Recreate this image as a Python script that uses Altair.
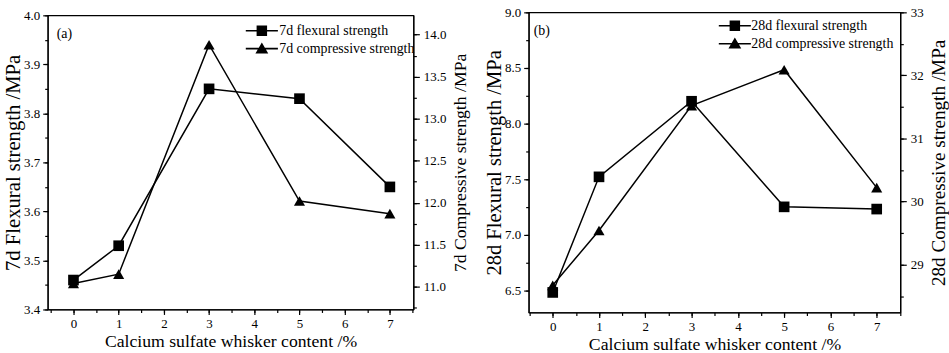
import altair as alt
import pandas as pd

# ---- data ----
content = [0, 1, 3, 5, 7]
flex_7d = [3.46, 3.53, 3.85, 3.83, 3.65]
comp_7d = [11.04, 11.15, 13.88, 12.02, 11.87]
flex_28d = [6.48, 7.52, 8.20, 7.25, 7.23]
comp_28d = [28.67, 29.54, 31.52, 32.09, 30.22]

x_ticks = [0, 1, 2, 3, 4, 5, 6, 7]
x_minor = [i * 0.5 for i in range(-1, 16)]
ticks_f7 = [3.4, 3.5, 3.6, 3.7, 3.8, 3.9, 4.0]
minor_f7 = [3.4 + i * 0.05 for i in range(13)]
ticks_c7 = [11.0, 11.5, 12.0, 12.5, 13.0, 13.5, 14.0]
minor_c7 = [10.75 + i * 0.25 for i in range(14)]
ticks_f28 = [6.5, 7.0, 7.5, 8.0, 8.5, 9.0]
minor_f28 = [6.5 + i * 0.25 for i in range(11)]
ticks_c28 = [29, 30, 31, 32, 33]
minor_c28 = [28.5 + i * 0.5 for i in range(10)]

FONT = "Liberation Serif"
# legend glyphs: a thin bar (the line) with the marker in its middle (unit = 8.5 px)
BAR = "M-1.9,-0.09H1.9V0.09H-1.9Z"
SQUARE = BAR + "M-0.62,-0.62H0.62V0.62H-0.62Z"
TRIANGLE = BAR + "M0,-0.72L0.76,0.58L-0.76,0.58Z"


def panel(tag, label, flex, comp, xdom, fdom, fticks, fminor, cdom, cticks,
          cminor, cfmt, w, h, legx, legy, legoff, tagx, tagy, ltitle, rtitle):
    names = [f"{tag} flexural strength", f"{tag} compressive strength"]
    df = pd.DataFrame({"x": content, "flex": flex, "comp": comp})
    xs = alt.Scale(domain=xdom, nice=False, zero=False)
    fs = alt.Scale(domain=fdom, nice=False, zero=False)
    cs = alt.Scale(domain=cdom, nice=False, zero=False)
    base = alt.Chart(df)

    flex_layer = base.mark_line(
        color="black", strokeWidth=1.5,
        point=alt.OverlayMarkDef(shape="square", size=115, filled=True,
                                 color="black", opacity=1),
    ).encode(
        x=alt.X("x:Q", scale=xs,
                axis=alt.Axis(orient="bottom", values=x_ticks, format="d",
                              labelFlush=False,
                              title="Calcium sulfate whisker content /%")),
        y=alt.Y("flex:Q", scale=fs,
                axis=alt.Axis(orient="left", values=fticks, format=".1f",
                              titleFontSize=ltitle, titlePadding=0,
                              title=f"{tag} Flexural strength /MPa")),
    )
    comp_layer = base.mark_line(
        color="black", strokeWidth=1.5,
        point=alt.OverlayMarkDef(shape="triangle-up", size=125, filled=True,
                                 color="black", opacity=1),
    ).encode(
        x=alt.X("x:Q", scale=xs, axis=None),
        y=alt.Y("comp:Q", scale=cs,
                axis=alt.Axis(orient="right", values=cticks, format=cfmt,
                              tickSize=6, labelPadding=4,
                              titleAngle=270, titleBaseline="top",
                              titleFontSize=rtitle, titlePadding=6,
                              title=f"{tag} Compressive strength /MPa")),
    )
    minor_left = base.mark_point(opacity=0).encode(
        x=alt.X("x:Q", scale=xs,
                axis=alt.Axis(orient="bottom", values=x_minor, labels=False,
                              domain=False, tickSize=3, title=None)),
        y=alt.Y("flex:Q", scale=fs,
                axis=alt.Axis(orient="left", values=fminor, labels=False,
                              domain=False, tickSize=3, title=None)),
    )
    minor_right = base.mark_point(opacity=0).encode(
        x=alt.X("x:Q", scale=xs, axis=None),
        y=alt.Y("comp:Q", scale=cs,
                axis=alt.Axis(orient="right", values=cminor, labels=False,
                              domain=False, tickSize=3, title=None)),
    )
    leg_df = pd.DataFrame({"series": names, "x": [0, 0], "y": [0, 0]})
    legend_layer = alt.Chart(leg_df).transform_filter("datum.x > 100").mark_point(
        filled=True, fill="black", stroke="black", strokeWidth=0, opacity=1
    ).encode(
        x=alt.X("x:Q", scale=xs, axis=None),
        y=alt.Y("y:Q", scale=fs, axis=None),
        shape=alt.Shape(
            "series:N",
            scale=alt.Scale(domain=names, range=[SQUARE, TRIANGLE]),
            legend=alt.Legend(
                title=None, orient="none", legendX=legx, legendY=legy,
                symbolSize=289, symbolStrokeWidth=0,
                symbolFillColor="black", symbolOpacity=1,
                labelFont=FONT, labelFontSize=14, labelColor="black",
                labelOffset=legoff, rowPadding=2, padding=0,
            ),
        ),
    )
    tag_layer = alt.Chart(pd.DataFrame({"t": [label]})).mark_text(
        font=FONT, fontSize=14, color="black", align="left", baseline="middle"
    ).encode(text="t:N", x=alt.value(tagx), y=alt.value(tagy))

    return alt.layer(
        flex_layer, comp_layer, minor_left, minor_right, legend_layer, tag_layer
    ).resolve_scale(x="independent", y="independent").properties(width=w, height=h)


left = panel("7d", "(a)", flex_7d, comp_7d, [-0.57, 7.52], [3.4, 4.0], ticks_f7,
             minor_f7, [10.73, 14.23], ticks_c7, minor_c7, ".1f", 368, 296,
             207, 7, 9, 9, 19, 20.8, 17.8)
right = panel("28d", "(b)", flex_28d, comp_28d, [-0.52, 7.51], [6.3, 9.0], ticks_f28,
              minor_f28, [28.24, 33.0], ticks_c28, minor_c28, "d", 374, 302,
              199, 5, 8, 5, 19, 20.7, 19.3)

chart = alt.hconcat(left, right, spacing=12, center=True).resolve_scale(
    shape="independent"
).properties(
    padding={"left": 2, "top": 4, "right": 0, "bottom": 0},
    background="white",
).configure_view(
    stroke="black", strokeWidth=1.2
).configure_axis(
    labelFont=FONT, labelFontSize=13, labelColor="black", labelPadding=3,
    titleFont=FONT, titleFontSize=20, titleFontWeight="normal", titleColor="black",
    titlePadding=3, domainColor="black", domainWidth=1.2, tickColor="black",
    tickWidth=1.2, tickSize=5, grid=False,
).configure_axisBottom(titleFontSize=17.8, titlePadding=2, labelPadding=3)

chart.save("out.html", embed_options={"renderer": "svg", "actions": False})
